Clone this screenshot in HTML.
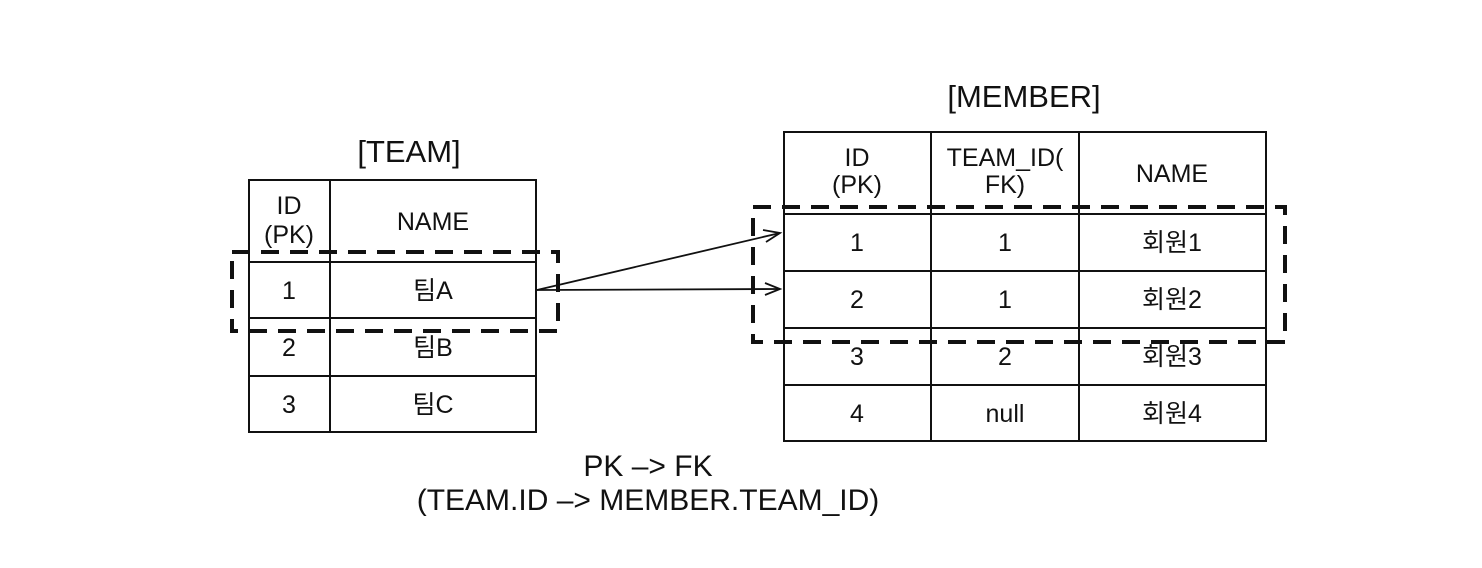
<!DOCTYPE html>
<html><head><meta charset="utf-8"><style>
html,body{margin:0;padding:0;background:#fff;}
svg{display:block;}
text{font-family:"Liberation Sans","Noto Sans CJK KR",sans-serif;fill:#111;}
</style></head><body>
<svg width="1482" height="568" viewBox="0 0 1482 568" xmlns="http://www.w3.org/2000/svg">
<g stroke="#111" stroke-width="2" fill="none">
<rect x="249" y="180" width="287" height="252"/>
<line x1="330" y1="180" x2="330" y2="432"/>
<line x1="249" y1="262" x2="536" y2="262"/>
<line x1="249" y1="318" x2="536" y2="318"/>
<line x1="249" y1="376" x2="536" y2="376"/>
<rect x="784" y="132" width="482" height="309"/>
<line x1="931" y1="132" x2="931" y2="441"/>
<line x1="1079" y1="132" x2="1079" y2="441"/>
<line x1="784" y1="214" x2="1266" y2="214"/>
<line x1="784" y1="271" x2="1266" y2="271"/>
<line x1="784" y1="328" x2="1266" y2="328"/>
<line x1="784" y1="385" x2="1266" y2="385"/>
</g>
<g stroke="#111" stroke-width="4" fill="none" stroke-dasharray="18,11">
<rect x="232" y="252" width="326" height="79"/>
<rect x="753" y="207" width="532" height="135"/>
</g>
<g stroke="#111" stroke-width="1.8" fill="none">
<line x1="537" y1="290" x2="780" y2="233"/>
<line x1="537" y1="290" x2="780" y2="289"/>
<polyline points="763,230 780,233 766,242"/>
<polyline points="765,283 780,289 765,295"/>
</g>
<g font-size="31" text-anchor="middle">
<text x="409" y="162">[TEAM]</text>
<text x="1024" y="107">[MEMBER]</text>
</g>
<g font-size="30" text-anchor="middle">
<text x="648" y="476">PK –&gt; FK</text>
<text x="648" y="510">(TEAM.ID –&gt; MEMBER.TEAM_ID)</text>
</g>
<g font-size="25" text-anchor="middle">
<text x="289" y="214">ID</text>
<text x="289" y="243">(PK)</text>
<text x="433" y="230">NAME</text>
<text x="289" y="299">1</text><text x="433" y="299">팀A</text>
<text x="289" y="356">2</text><text x="433" y="356">팀B</text>
<text x="289" y="413">3</text><text x="433" y="413">팀C</text>
<text x="857" y="166">ID</text>
<text x="857" y="193">(PK)</text>
<text x="1005" y="166">TEAM_ID(</text>
<text x="1005" y="193">FK)</text>
<text x="1172" y="182">NAME</text>
<text x="857" y="251">1</text><text x="1005" y="251">1</text><text x="1172" y="251">회원1</text>
<text x="857" y="308">2</text><text x="1005" y="308">1</text><text x="1172" y="308">회원2</text>
<text x="857" y="365">3</text><text x="1005" y="365">2</text><text x="1172" y="365">회원3</text>
<text x="857" y="422">4</text><text x="1005" y="422">null</text><text x="1172" y="422">회원4</text>
</g>
</svg>
</body></html>
